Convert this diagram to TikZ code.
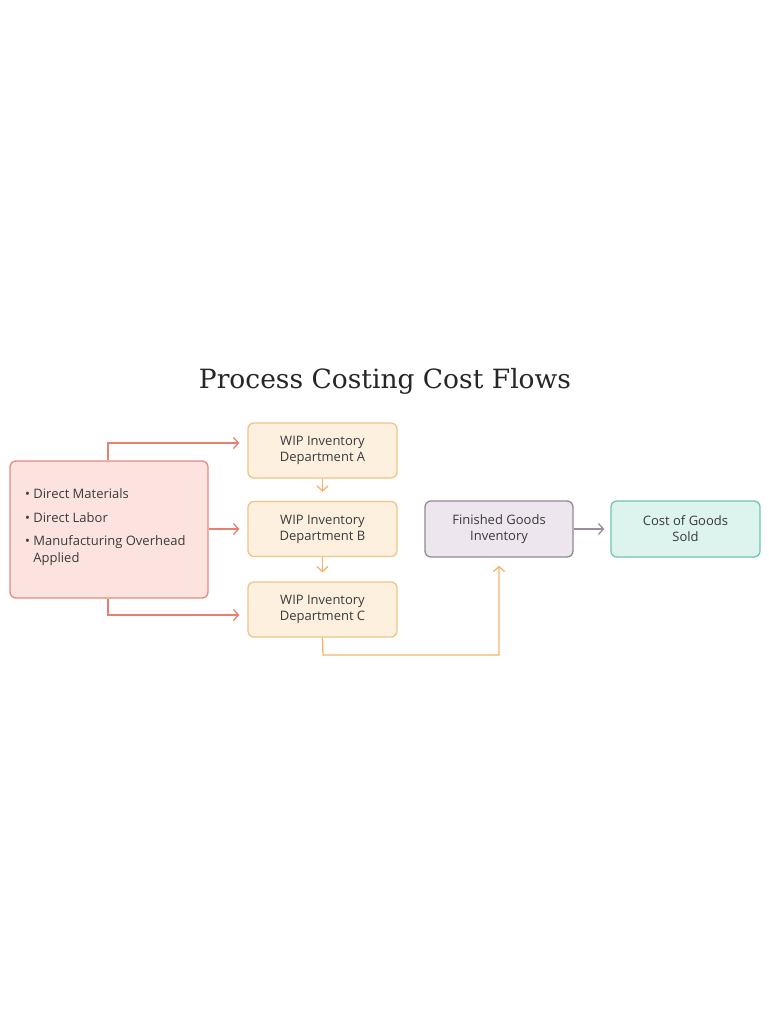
\documentclass[tikz,border=0pt]{standalone}
\usepackage{fontspec}
\setmainfont{Open Sans}
\newfontfamily\titlefont{DejaVu Serif}
\usetikzlibrary{arrows.meta,positioning}
\definecolor{redfill}{HTML}{FCE3E0}
\definecolor{redline}{HTML}{E58A80}
\definecolor{redarrow}{HTML}{E8806E}
\definecolor{orfill}{HTML}{FDF0DE}
\definecolor{orline}{HTML}{F1C488}
\definecolor{orarrow}{HTML}{F2B56C}
\definecolor{pufill}{HTML}{EDE6EE}
\definecolor{puline}{HTML}{958896}
\definecolor{puarrow}{HTML}{9C8D9A}
\definecolor{tefill}{HTML}{DDF3EE}
\definecolor{teline}{HTML}{6FC6B1}
\definecolor{txt}{HTML}{3A3A3A}
\tikzset{
  x=1pt,y=-1pt,
  box/.style={draw, line width=1.3pt, rounded corners=6pt, align=center, text=txt, font=\fontsize{13}{16}\selectfont, inner sep=0pt},
  srcbox/.style={box, fill=redfill, draw=redline, minimum width=198pt, minimum height=137pt},
  wipbox/.style={box, fill=orfill, draw=orline, minimum width=149pt, minimum height=55pt},
  fgbox/.style={box, fill=pufill, draw=puline, minimum width=148pt, minimum height=56pt},
  cgbox/.style={box, fill=tefill, draw=teline, minimum width=149pt, minimum height=56pt},
  tip/.style={-{Straight Barb[length=5pt,width=11pt,line width=1.3pt]}},
  redflow/.style={tip, draw=redarrow, line width=1.3pt},
  orflow/.style={tip, draw=orarrow, line width=1.3pt},
  puflow/.style={tip, draw=puarrow, line width=1.3pt},
}
\begin{document}
\begin{tikzpicture}
\useasboundingbox[fill=white] (0,0) rectangle (768,1024);
\node[text=black!85, font=\titlefont\fontsize{26.5}{30}\selectfont] (title) at (385,381) {Process Costing Cost Flows};

\node[srcbox] (src) at (109,529.5) {};
\node[anchor=north west, text=txt, font=\fontsize{13}{17}\selectfont, align=left, inner sep=0pt] (list) at (25,488)
 {\textbullet\ Direct Materials\\[7pt]\textbullet\ Direct Labor\\[6pt]\textbullet\ Manufacturing Overhead\\\hphantom{\textbullet\ }Applied};

\node[wipbox] (a) at (322.5,450.5) {WIP Inventory\\Department A};
\node[wipbox] (b) at (322.5,529) {WIP Inventory\\Department B};
\node[wipbox] (c) at (322.5,609.5) {WIP Inventory\\Department C};
\node[fgbox] (fg) at (499,529) {Finished Goods\\Inventory};
\node[cgbox] (cg) at (685.5,529) {Cost of Goods\\Sold};

\coordinate (ta) at (240,443);
\coordinate (tc) at (240,615);
\draw[redflow] (src.north -| 108,0) |- ([xshift=-8pt]a.west |- ta);
\draw[redflow] (src.east |- b) -- ([xshift=-8pt]b.west);
\draw[redflow] (src.south -| 108,0) |- ([xshift=-8pt]c.west |- tc);
\draw[orflow] (a.south) -- ([yshift=9pt]b.north);
\draw[orflow] (b.south) -- ([yshift=9pt]c.north);
\coordinate (cc) at (323,655);
\draw[orflow] (c.south) -- (cc) -| ([yshift=-8pt]fg.south);
\draw[puflow] (fg.east) -- ([xshift=-6pt]cg.west);
\end{tikzpicture}
\end{document}
